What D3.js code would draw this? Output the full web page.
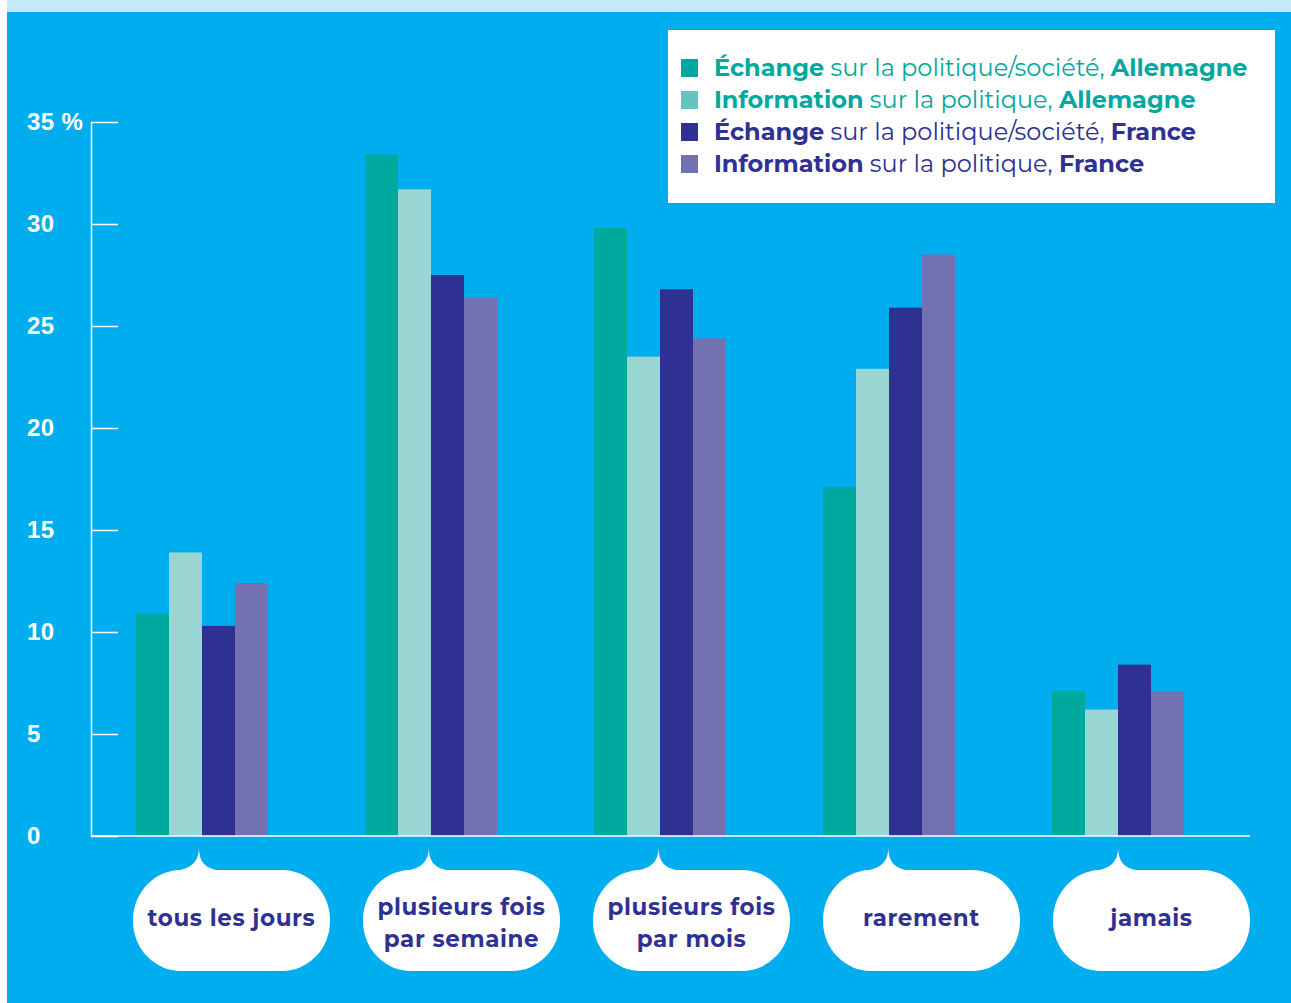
<!DOCTYPE html>
<html>
<head>
<meta charset="utf-8">
<script src="https://cdn.jsdelivr.net/npm/d3@7"></script>
<style>
  body { margin: 0; background: #ffffff; }
  svg { display: block; font-family: "Montserrat", "Noto Sans", sans-serif; }
</style>
</head>
<body>
<svg id="chart"></svg>
<script>
// Categories (frequency) and series
const categories = [
  ["tous les jours"],
  ["plusieurs fois", "par semaine"],
  ["plusieurs fois", "par mois"],
  ["rarement"],
  ["jamais"]
];
const seriesKeys = ["echangeDE", "infoDE", "echangeFR", "infoFR"];

// Values in %, one array per series
const echangeDE = [10.9, 33.4, 29.8, 17.1, 7.1];
const infoDE = [13.9, 31.7, 23.5, 22.9, 6.2];
const echangeFR = [10.3, 27.5, 26.8, 25.9, 8.4];
const infoFR = [12.4, 26.4, 24.4, 28.5, 7.1];

const yTicks = [0, 5, 10, 15, 20, 25, 30, 35];

const legendItems = [
  { bold: "Échange", rest: " sur la politique/société, ", country: "Allemagne" },
  { bold: "Information", rest: " sur la politique, ", country: "Allemagne" },
  { bold: "Échange", rest: " sur la politique/société, ", country: "France" },
  { bold: "Information", rest: " sur la politique, ", country: "France" }
];

const barColors = ["#00a99d", "#98d5d3", "#2e3192", "#7471b2"];
const swatchColors = ["#00a99d", "#62c4bc", "#2e3192", "#7471b2"];
const textColors = ["#00a99d", "#00a99d", "#2e3192", "#2e3192"];

const seriesValues = { echangeDE, infoDE, echangeFR, infoFR };
const data = categories.map((c, i) => {
  const row = { key: c.join(" ") };
  seriesKeys.forEach((k) => (row[k] = seriesValues[k][i]));
  return row;
});

const W = 1291, H = 1003;
const svg = d3.select("#chart").attr("width", W).attr("height", H);

// Background: light strip on top, blue panel
svg.append("rect").attr("x", 7).attr("y", 0).attr("width", W - 7).attr("height", 12).attr("fill", "#c6e9f9");
svg.append("rect").attr("x", 7).attr("y", 12).attr("width", W - 7).attr("height", H - 12).attr("fill", "#00aeef");

// Scales
const y = d3.scaleLinear().domain([0, 35]).range([836, 122]);
const x0 = d3.scaleBand().domain(data.map((d) => d.key)).range([136, 1184]).paddingInner(0.4236);
const x1 = d3.scaleBand().domain(seriesKeys).range([0, x0.bandwidth()]);
const color = d3.scaleOrdinal().domain(seriesKeys).range(barColors);

// Bars
svg.append("g")
  .selectAll("g")
  .data(data)
  .join("g")
  .attr("transform", (d) => `translate(${x0(d.key)},0)`)
  .selectAll("rect")
  .data((d) => seriesKeys.map((k) => ({ key: k, value: d[k] })))
  .join("rect")
  .attr("x", (d) => x1(d.key))
  .attr("y", (d) => y(d.value))
  .attr("width", x1.bandwidth())
  .attr("height", (d) => y(0) - y(d.value))
  .attr("fill", (d) => color(d.key));

// Y axis, ticks pointing inward, labels left aligned
const axisX = 91;
const yAxis = svg.append("g")
  .attr("transform", `translate(${axisX},0)`)
  .call(
    d3.axisLeft(y)
      .tickValues(yTicks)
      .tickSize(-27)
      .tickSizeOuter(0)
      .tickFormat((d) => (d === 35 ? "35 %" : d))
  );
yAxis.select(".domain").attr("stroke", "#ffffff").attr("stroke-width", 1.5);
yAxis.selectAll(".tick line").attr("stroke", "#ffffff").attr("stroke-width", 1.5);
yAxis.selectAll(".tick text")
  .attr("x", 27 - axisX)
  .attr("text-anchor", "start")
  .attr("fill", "#ffffff")
  .attr("font-size", 24)
  .attr("font-weight", 700)
  .attr("letter-spacing", 0.4);

// X baseline
svg.append("line")
  .attr("x1", axisX)
  .attr("x2", 1250)
  .attr("y1", y(0))
  .attr("y2", y(0))
  .attr("stroke", "#ffffff")
  .attr("stroke-width", 1.5);

// Speech bubble labels
const bubbleTop = 870, bubbleH = 101, bubbleW = 197, tipY = 847;
const bubbles = svg.append("g")
  .selectAll("g")
  .data(categories)
  .join("g");

bubbles.each(function (lines, i) {
  const g = d3.select(this);
  const bx = x0(data[i].key) - 3 + i;
  const cx = x0(data[i].key) + x0.bandwidth() / 2 - 3 + i * 0.8;
  g.append("rect")
    .attr("x", bx)
    .attr("y", bubbleTop)
    .attr("width", bubbleW)
    .attr("height", bubbleH)
    .attr("rx", 48)
    .attr("ry", 50)
    .attr("fill", "#ffffff");
  g.append("path")
    .attr("d", `M${cx - 28},${bubbleTop + 1} C${cx - 8},${bubbleTop} ${cx},${bubbleTop - 8} ${cx},${tipY}
                C${cx},${bubbleTop - 8} ${cx + 6},${bubbleTop} ${cx + 26},${bubbleTop + 1} Z`)
    .attr("fill", "#ffffff");
  const midY = bubbleTop + bubbleH / 2;
  const lh = 32;
  const off = lines.length > 1 ? 10 : 5;
  const t = g.append("text")
    .attr("text-anchor", "middle")
    .attr("fill", "#2e3192")
    .attr("font-size", 23)
    .attr("font-weight", 700)
    .attr("letter-spacing", 0.6);
  lines.forEach((ln, j) => {
    t.append("tspan")
      .attr("x", bx + bubbleW / 2)
      .attr("y", midY + (j - (lines.length - 1) / 2) * lh + off)
      .text(ln);
  });
});

// Legend
const legend = svg.append("g");
legend.append("rect")
  .attr("x", 668).attr("y", 30).attr("width", 607).attr("height", 173)
  .attr("fill", "#ffffff");

const rows = legend.selectAll("g.row")
  .data(legendItems)
  .join("g")
  .attr("class", "row")
  .attr("transform", (d, i) => `translate(681,${68 + i * 32})`);

rows.append("rect")
  .attr("x", 0).attr("y", -9).attr("width", 17).attr("height", 18)
  .attr("fill", (d, i) => swatchColors[i]);

const lt = rows.append("text")
  .attr("x", 33)
  .attr("y", 8)
  .attr("font-size", 24)
  .attr("fill", (d, i) => textColors[i]);
lt.append("tspan").attr("font-weight", 700).text((d) => d.bold);
lt.append("tspan").attr("font-weight", 400).text((d) => d.rest);
lt.append("tspan").attr("font-weight", 700).text((d) => d.country);
</script>
</body>
</html>
